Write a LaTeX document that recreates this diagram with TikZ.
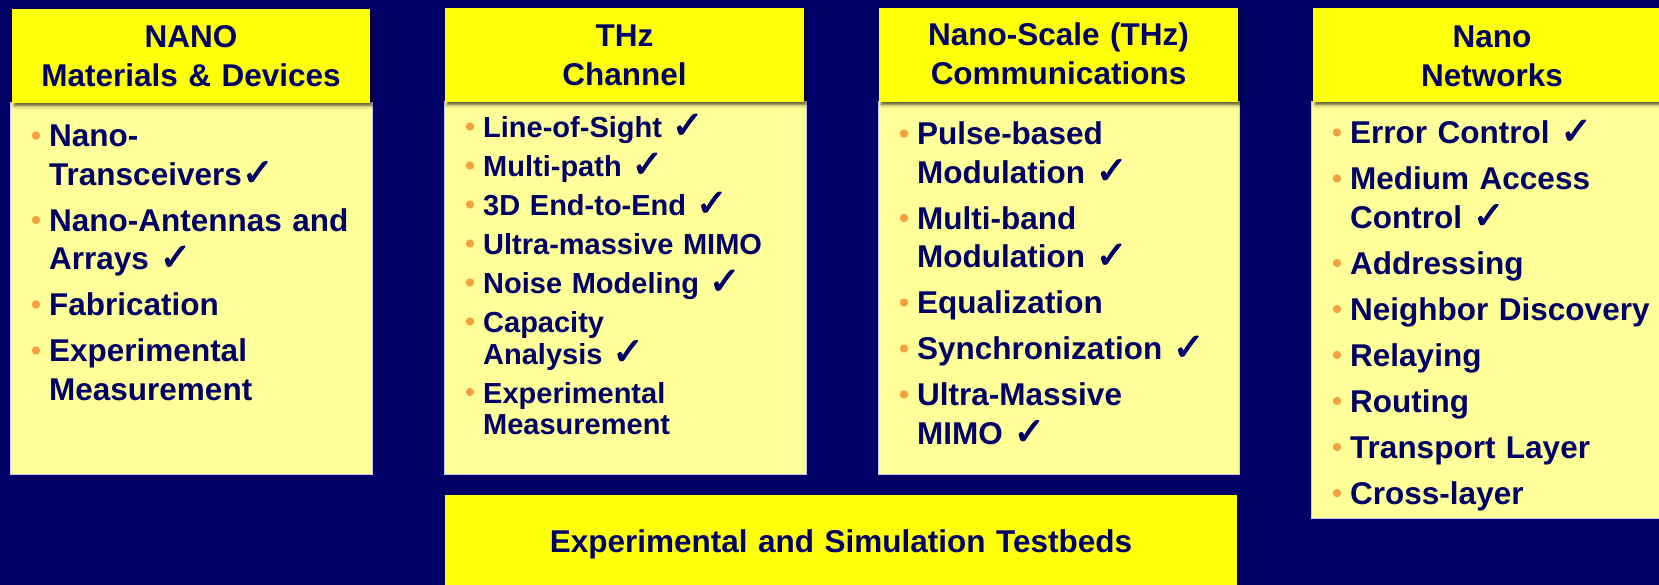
\documentclass[tikz,border=0pt]{standalone}
\usepackage{fontspec}
\setmainfont{Liberation Sans}
\newfontfamily\chkfont[FakeBold=2.5]{DejaVu Sans}
\usetikzlibrary{shadows.blur}

\definecolor{navy}{HTML}{000066}
\definecolor{headyellow}{HTML}{FFFF0A}
\definecolor{bodyyellow}{HTML}{FFFF99}
\definecolor{bulorange}{HTML}{F2A23C}
\definecolor{bodyline}{HTML}{C8C8EE}

\newcommand{\chk}{{\chkfont\fontsize{38}{38}\selectfont ✓}}
\newcommand{\bul}{\leavevmode\llap{\tikz[baseline=-11.5pt]\fill[bulorange] (0,0) circle (4.2pt);\hspace{9pt}}}

\begin{document}
\begin{tikzpicture}[x=1pt,y=-1pt,
    headbox/.style={fill=headyellow, inner sep=0pt, minimum height=94pt,
      blur shadow={shadow xshift=2pt, shadow yshift=-3pt, shadow blur steps=6, shadow opacity=60}},
    bodybox/.style={fill=bodyyellow, draw=bodyline, line width=1pt, inner sep=0pt},
    headtext/.style={anchor=base, text width=350pt, align=center, inner sep=0pt, text=navy,
      font=\fontsize{31.5}{39}\selectfont\bfseries},
    items/.style={anchor=base west, text width=320pt, align=left, inner sep=0pt, text=navy,
      font=\fontsize{31.5}{38.5}\selectfont\bfseries}]
    % Background
    \useasboundingbox (0,0) rectangle (1659,585);
    \clip (0,0) rectangle (1659,585);
    \fill[navy] (0,0) rectangle (1659,585);

    % Bodies
    \node[bodybox, minimum width=362pt, minimum height=371pt] (matB) at (191,288.5) {};
    \node[bodybox, minimum width=362pt, minimum height=372pt] (chnB) at (625,288) {};
    \node[bodybox, minimum width=361pt, minimum height=372pt] (comB) at (1058.5,288) {};
    \node[bodybox, minimum width=369pt, minimum height=416pt] (netB) at (1495.5,310) {};

    % Headers
    \node[headbox, minimum width=358pt] (matH) at (191,56) {};
    \node[headbox, minimum width=359pt] (chnH) at (624.5,55) {};
    \node[headbox, minimum width=359pt] (comH) at (1058.5,55) {};
    \node[headbox, minimum width=367pt] (netH) at (1496.5,55) {};
    \node[headbox, minimum width=792pt, minimum height=115pt] (testbed) at (841,552.5) {};

    % Titles
    \node[headtext] (matT) at (191,48) {NANO\\Materials \& Devices};
    \node[headtext] (chnT) at (624.5,47) {THz\\Channel};
    \node[headtext] (comT) at (1058.5,46) {Nano-Scale (THz)\\Communications};
    \node[headtext] (netT) at (1492,48) {Nano\\Networks};
    \node[headtext, text width=780pt] (testT) at (841,552) {Experimental and Simulation Testbeds};

    % Items
    \node[items] (matL) at (49,147) {\bul Nano-\\Transceivers\chk\\[7.5pt]
      \bul Nano-Antennas and\\Arrays \chk\\[7.5pt]
      \bul Fabrication\\[7.5pt]
      \bul Experimental\\Measurement};
    \node[items, font=\fontsize{29}{31.5}\selectfont\bfseries] (chnL) at (483,138) {\bul Line-of-Sight \chk\\[7.5pt]
      \bul Multi-path \chk\\[7.5pt]
      \bul 3D End-to-End \chk\\[7.5pt]
      \bul Ultra-massive MIMO\\[7.5pt]
      \bul Noise Modeling \chk\\[7.5pt]
      \bul Capacity\\Analysis \chk\\[7.5pt]
      \bul Experimental\\Measurement};
    \node[items] (comL) at (917,145) {\bul Pulse-based\\Modulation \chk\\[7.5pt]
      \bul Multi-band\\Modulation \chk\\[7.5pt]
      \bul Equalization\\[7.5pt]
      \bul Synchronization \chk\\[7.5pt]
      \bul Ultra-Massive\\MIMO \chk};
    \node[items] (netL) at (1350,144) {\bul Error Control \chk\\[7.5pt]
      \bul Medium Access\\Control \chk\\[7.5pt]
      \bul Addressing\\[7.5pt]
      \bul Neighbor Discovery\\[7.5pt]
      \bul Relaying\\[7.5pt]
      \bul Routing\\[7.5pt]
      \bul Transport Layer\\[7.5pt]
      \bul Cross-layer};
\end{tikzpicture}
\end{document}
